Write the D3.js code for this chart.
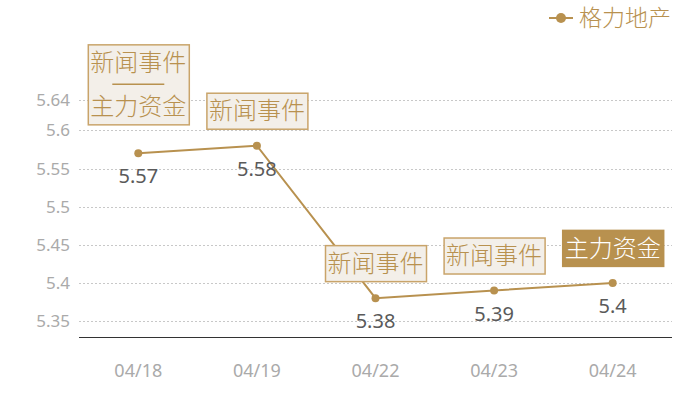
<!DOCTYPE html>
<html>
<head>
<meta charset="utf-8">
<script src="https://cdn.jsdelivr.net/npm/d3@7"></script>
<style>
  body { margin: 0; background: #fff; }
  text { font-family: "Noto Sans", "Noto Sans CJK SC", sans-serif; }
</style>
</head>
<body>
<script>
var dates = ["04/18", "04/19", "04/22", "04/23", "04/24"];
var prices = [5.57, 5.58, 5.38, 5.39, 5.4];
var yTicks = [5.35, 5.4, 5.45, 5.5, 5.55, 5.6, 5.64];
var seriesName = "格力地产";
// one entry per date: lines of the event box, and whether it is filled
var eventLines = [["新闻事件", "主力资金"], ["新闻事件"], ["新闻事件"], ["新闻事件"], ["主力资金"]];
var eventFilled = [false, false, false, false, true];

var width = 700, height = 400;
var gold = "#b8914f";
var margin = { left: 79, right: 28, top: 100, bottom: 63 };

var svg = d3.select("body")
	.append("svg")
		.attr("width", width)
		.attr("height", height);

var x = d3.scaleBand()
		.domain(dates)
		.range([margin.left, width - margin.right]);

var y = d3.scaleLinear()
		.domain([5.329, 5.64])
		.range([height - margin.bottom, margin.top]);

// grid
svg.append("g")
	.selectAll("line")
		.data(yTicks)
	.enter()
	.append("line")
		.attr("x1", margin.left)
		.attr("x2", width - margin.right)
		.attr("y1", function(d) { return Math.round(y(d)) + 0.5; })
		.attr("y2", function(d) { return Math.round(y(d)) + 0.5; })
		.attr("stroke", "#c8c8c8")
		.attr("stroke-dasharray", "2,2");

// y labels
svg.append("g")
	.selectAll("text")
		.data(yTicks)
	.enter()
	.append("text")
		.attr("x", margin.left - 9)
		.attr("y", function(d) { return y(d); })
		.attr("dy", "0.35em")
		.attr("text-anchor", "end")
		.attr("font-size", 17)
		.attr("fill", "#aaa")
		.text(function(d) { return d; });

// x axis
svg.append("line")
		.attr("x1", margin.left)
		.attr("x2", width - margin.right)
		.attr("y1", height - margin.bottom + 0.5)
		.attr("y2", height - margin.bottom + 0.5)
		.attr("stroke", "#333");

svg.append("g")
	.selectAll("text")
		.data(dates)
	.enter()
	.append("text")
		.attr("x", function(d) { return x(d) + x.bandwidth() / 2; })
		.attr("y", 371)
		.attr("dy", "0.35em")
		.attr("text-anchor", "middle")
		.attr("font-size", 18)
		.attr("fill", "#aaa")
		.text(function(d) { return d; });

var cx = function(d, i) { return x(dates[i]) + x.bandwidth() / 2; };

// series line
var line = d3.line()
		.x(function(d, i) { return cx(d, i); })
		.y(function(d) { return y(d); });

svg.append("path")
		.datum(prices)
		.attr("d", line)
		.attr("fill", "none")
		.attr("stroke", gold)
		.attr("stroke-width", 2);

svg.append("g")
	.selectAll("circle")
		.data(prices)
	.enter()
	.append("circle")
		.attr("cx", cx)
		.attr("cy", function(d) { return y(d); })
		.attr("r", 4)
		.attr("fill", gold);

svg.append("g")
	.selectAll("text")
		.data(prices)
	.enter()
	.append("text")
		.attr("x", cx)
		.attr("y", function(d) { return y(d) + 23; })
		.attr("dy", "0.35em")
		.attr("text-anchor", "middle")
		.attr("font-size", 20)
		.attr("fill", "#5a5a5a")
		.text(function(d) { return d; });

// event boxes
var boxW = 101, lineH = 36, sepH = 8;
prices.forEach(function(p, i) {
	var ls = eventLines[i];
	var h = ls.length * lineH + (ls.length - 1) * sepH;
	var bottom = y(p) - 17 - (ls.length > 1 ? 12 : 0);
	var top = bottom - h;
	var left = cx(p, i) - boxW / 2;
	var g = svg.append("g");
	g.append("rect")
			.attr("x", left + 0.5)
			.attr("y", top + 0.5)
			.attr("width", boxW)
			.attr("height", h)
			.attr("fill", eventFilled[i] ? gold : "#f3efe9")
			.attr("stroke", eventFilled[i] ? gold : "#c9a46a")
			.attr("stroke-width", 1.5);
	ls.forEach(function(t, j) {
		var ty = top + j * (lineH + sepH) + lineH / 2;
		g.append("text")
				.attr("x", cx(p, i))
				.attr("y", ty)
				.attr("dy", "0.36em")
				.attr("text-anchor", "middle")
				.attr("font-family", "Noto Sans CJK SC")
				.attr("font-weight", 300)
				.attr("font-size", 24)
				.attr("fill", eventFilled[i] ? "#fff" : gold)
				.text(t);
		if (j < ls.length - 1) {
			g.append("line")
					.attr("x1", cx(p, i) - 26)
					.attr("x2", cx(p, i) + 26)
					.attr("y1", ty + lineH / 2 + sepH / 2)
					.attr("y2", ty + lineH / 2 + sepH / 2)
					.attr("stroke", gold)
					.attr("stroke-width", 1.5);
		}
	});
});

// legend
var legend = svg.append("g");
legend.append("line")
		.attr("x1", 549)
		.attr("x2", 573)
		.attr("y1", 18)
		.attr("y2", 18)
		.attr("stroke", gold)
		.attr("stroke-width", 2);
legend.append("circle")
		.attr("cx", 561)
		.attr("cy", 18)
		.attr("r", 5)
		.attr("fill", gold);
legend.append("text")
		.attr("x", 579)
		.attr("y", 18)
		.attr("dy", "0.36em")
		.attr("font-family", "Noto Sans CJK SC")
		.attr("font-weight", 300)
		.attr("font-size", 23)
		.attr("fill", gold)
		.text(seriesName);
</script>
</body>
</html>
